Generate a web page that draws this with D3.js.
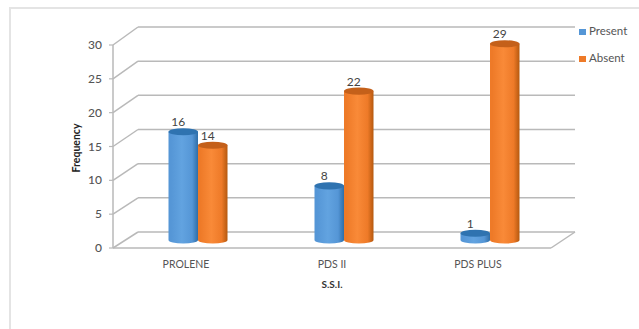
<!DOCTYPE html>
<html>
<head>
<meta charset="utf-8">
<script src="https://cdnjs.cloudflare.com/ajax/libs/d3/7.8.5/d3.min.js"></script>
<style>
html,body{margin:0;padding:0;background:#fff}
svg{display:block}
text{font-family:Lato,"Open Sans",sans-serif}
</style>
</head>
<body>
<svg id="chart" width="639" height="329"></svg>
<script>
const categories = ["PROLENE", "PDS II", "PDS PLUS"];
const seriesNames = ["Present", "Absent"];
const present = [16, 8, 1];
const absent = [14, 22, 29];
const yTicks = [0, 5, 10, 15, 20, 25, 30];
const yTitle = "Frequency";
const xTitle = "S.S.I.";

const svg = d3.select("#chart");

// Oblique floor: front edge and back edge of the 3D box
const front = {x0: 113, x1: 551, y0: 248, y30: 45};
const back = {x0: 138, x1: 575, y0: 232, y30: 27};
const yFront = d3.scaleLinear().domain([0, 30]).range([front.y0, front.y30]);
const yBack = d3.scaleLinear().domain([0, 30]).range([back.y0, back.y30]);
// Cylinders stand midway between the front and back planes
const baseY = 240;
const yBar = d3.scaleLinear().domain([0, 30]).range([baseY, baseY - 203]);
const x = d3.scaleBand().domain(categories).range([125, 563]);
const barW = 29.5;
const ry = 3.6;

const colors = {
  Present: {dark: "#2f6ea8", mid: "#5596d6", light: "#62a3e0", top: "#2f73b0"},
  Absent: {dark: "#b5590f", mid: "#ee7a28", light: "#f98a38", top: "#c4601a"}
};

const defs = svg.append("defs");
seriesNames.forEach(name => {
  const c = colors[name];
  const g = defs.append("linearGradient").attr("id", "cyl-" + name);
  [[0, c.mid], [0.08, c.mid], [0.45, c.light], [0.8, c.mid], [1, c.dark]].forEach(([o, col]) => {
    g.append("stop").attr("offset", o).attr("stop-color", col);
  });
});

// Chart frame: only its top and left edges show
const frame = svg.append("g").attr("stroke", "#e4e4e4").attr("stroke-width", 2);
frame.append("line").attr("x1", 9).attr("x2", 639).attr("y1", 8).attr("y2", 8);
frame.append("line").attr("x1", 10).attr("x2", 10).attr("y1", 8).attr("y2", 329);

const gridColor = "#b9b9b9";
const grid = svg.append("g").attr("fill", "none").attr("stroke", gridColor).attr("stroke-width", 1.5);

// Back wall gridlines and the matching diagonals on the side wall
yTicks.forEach(t => {
  grid.append("line").attr("x1", back.x0).attr("x2", back.x1).attr("y1", yBack(t)).attr("y2", yBack(t));
  grid.append("line").attr("x1", front.x0).attr("x2", back.x0).attr("y1", yFront(t)).attr("y2", yBack(t));
});
// Vertical front axis
grid.append("line").attr("x1", front.x0).attr("x2", front.x0).attr("y1", yFront(0)).attr("y2", yFront(30));
// Front and right edges of the floor
grid.append("line").attr("x1", front.x0).attr("x2", front.x1).attr("y1", yFront(0)).attr("y2", yFront(0));
grid.append("line").attr("x1", front.x1).attr("x2", back.x1).attr("y1", yFront(0)).attr("y2", yBack(0));

// Y tick marks and labels
const axisG = svg.append("g");
yTicks.forEach(t => {
  axisG.append("line").attr("x1", front.x0 - 4).attr("x2", front.x0).attr("y1", yFront(t)).attr("y2", yFront(t))
    .attr("stroke", gridColor).attr("stroke-width", 1.2);
  axisG.append("text").attr("x", 102).attr("y", yFront(t) + 1)
    .attr("text-anchor", "end").attr("dominant-baseline", "middle")
    .attr("font-size", 12).attr("font-weight", 500).attr("fill", "#555").text(t);
});

// One cylinder: body, bottom curve and elliptical cap
function cylinder(g, cx, value, name) {
  const c = colors[name];
  const top = yBar(value), bot = yBar(0);
  const l = cx - barW / 2, r = cx + barW / 2;
  g.append("path")
    .attr("d", `M${l},${top}L${l},${bot}A${barW / 2},${ry} 0 0 0 ${r},${bot}L${r},${top}Z`)
    .attr("fill", `url(#cyl-${name})`);
  g.append("ellipse").attr("cx", cx).attr("cy", top).attr("rx", barW / 2).attr("ry", ry)
    .attr("fill", c.top);
}

const bars = svg.append("g");
categories.forEach((cat, i) => {
  const cx = x(cat) + x.bandwidth() / 2;
  const cxP = cx - barW / 2, cxA = cx + barW / 2;
  // Present first so the Absent cylinder sits over its edge
  cylinder(bars, cxP, present[i], "Present");
  cylinder(bars, cxA, absent[i], "Absent");
  [[cxP, present[i]], [cxA, absent[i]]].forEach(([px, v]) => {
    bars.append("text").attr("x", px - 5).attr("y", yBar(v) - 5.5)
      .attr("text-anchor", "middle").attr("font-size", 12).attr("fill", "#444").text(v);
  });
  svg.append("text").attr("x", cx - 12).attr("y", 268).attr("text-anchor", "middle")
    .attr("font-size", 10.5).attr("fill", "#555").text(cat);
});

// Axis titles
svg.append("text").attr("x", 332).attr("y", 288).attr("text-anchor", "middle")
  .attr("font-size", 10).attr("font-weight", 700).attr("fill", "#333").text(xTitle);
svg.append("text").attr("transform", "translate(80,148) rotate(-90)").attr("text-anchor", "middle")
  .attr("font-size", 10.5).attr("font-weight", 700).attr("fill", "#222").text(yTitle);

// Legend
seriesNames.forEach((name, i) => {
  const ly = 32 + i * 27;
  svg.append("rect").attr("x", 579).attr("y", ly - 3).attr("width", 7).attr("height", 6)
    .attr("fill", colors[name].mid);
  svg.append("text").attr("x", 589).attr("y", ly + 0.5).attr("dominant-baseline", "middle")
    .attr("font-size", 11.5).attr("fill", "#555").text(name);
});
</script>
</body>
</html>
